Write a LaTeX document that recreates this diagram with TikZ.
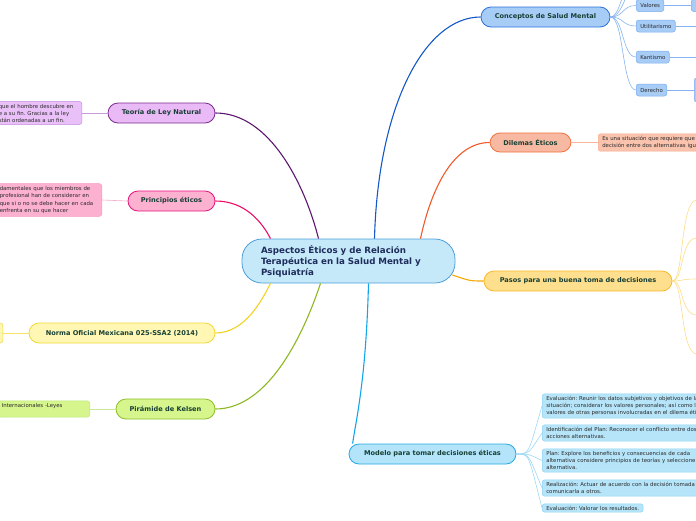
\documentclass[tikz,border=0pt]{standalone}
\usepackage{fontspec}
\setmainfont{DejaVu Sans}
\definecolor{txtgreen}{HTML}{173F35}
\definecolor{txtnavy}{HTML}{1F2D5C}
\definecolor{txtgrey}{HTML}{2A2A2A}
\definecolor{cenfill}{HTML}{C6E9FA}
\definecolor{cenline}{HTML}{4C9FD8}
\definecolor{bluefill}{HTML}{A7CCF6}
\definecolor{blueline}{HTML}{2D72D9}
\definecolor{bluebranch}{HTML}{1558C8}
\definecolor{bluesubline}{HTML}{7AAEF0}
\definecolor{bluetwig}{HTML}{86B4F2}
\definecolor{salfill}{HTML}{F8B9A2}
\definecolor{salline}{HTML}{F2713F}
\definecolor{salbranch}{HTML}{F05A28}
\definecolor{salsubfill}{HTML}{FAC3AD}
\definecolor{salsubline}{HTML}{F8A88A}
\definecolor{saltwig}{HTML}{F9B49C}
\definecolor{orfill}{HTML}{FEDF8E}
\definecolor{orline}{HTML}{F9B92A}
\definecolor{orbranch}{HTML}{F9A800}
\definecolor{ortwig}{HTML}{FDDC88}
\definecolor{skyfill}{HTML}{B3E4F9}
\definecolor{skyline}{HTML}{25A9E5}
\definecolor{skybranch}{HTML}{12A5E8}
\definecolor{skysubfill}{HTML}{B6E5FA}
\definecolor{skysubline}{HTML}{8ED0F2}
\definecolor{skytwig}{HTML}{9ED8F4}
\definecolor{vifill}{HTML}{EABAF6}
\definecolor{viline}{HTML}{7A2A8C}
\definecolor{vibranch}{HTML}{5C1670}
\definecolor{visubfill}{HTML}{EAC0F8}
\definecolor{visubline}{HTML}{C88FDE}
\definecolor{vitwig}{HTML}{C79AD8}
\definecolor{pkfill}{HTML}{FDB1D1}
\definecolor{pkline}{HTML}{E8127A}
\definecolor{pkbranch}{HTML}{E8106A}
\definecolor{pksubline}{HTML}{F49AC2}
\definecolor{pktwig}{HTML}{F8AACB}
\definecolor{yefill}{HTML}{FFF7B3}
\definecolor{yeline}{HTML}{F1D838}
\definecolor{yebranch}{HTML}{F3D323}
\definecolor{yetwig}{HTML}{F6E26B}
\definecolor{gnfill}{HTML}{D6F58D}
\definecolor{gnline}{HTML}{8DBE28}
\definecolor{gnbranch}{HTML}{8DB822}
\definecolor{gnsubline}{HTML}{BEE57A}
\definecolor{gntwig}{HTML}{C8E89A}
\begin{document}
\frenchspacing
\begin{tikzpicture}[x=1pt, y=-1pt,
	topic/.style={draw, line width=0.8pt, rounded corners=10pt, minimum height=20pt, inner xsep=6pt, inner ysep=0pt, font=\fontsize{6.6}{8}\selectfont\bfseries, text=txtgreen},
	leaf/.style={draw, line width=0.5pt, rounded corners=2.5pt, inner xsep=4pt, inner ysep=2.5pt, font=\fontsize{5.4}{7}\selectfont, text=txtgrey, align=left},
	branch/.style={line width=1.1pt},
	twig/.style={line width=0.6pt}]
	\useasboundingbox (0,0) rectangle (696,520);
	\clip (0,0) rectangle (696,520);

	% centre
	\node[draw=cenline, fill=cenfill, line width=0.8pt, rounded corners=20pt, minimum height=44pt, inner xsep=19pt, text width=175pt, align=left, font=\fontsize{8.7}{11}\selectfont\bfseries, text=txtnavy] (centre) at (348.5,261) {Aspectos Éticos y de Relación\\Terapéutica en la Salud Mental y\\Psiquiatría};

	% right side topics
	\node[topic, draw=blueline, fill=bluefill, minimum width=129pt] (conc) at (545.5,17) {Conceptos de Salud Mental};
	\node[topic, draw=salline, fill=salfill, minimum width=81pt, minimum height=19pt] (dilemas) at (530.5,142.5) {Dilemas Éticos};
	\node[topic, draw=orline, fill=orfill, minimum width=188pt] (pasos) at (578,281) {Pasos para una buena toma de decisiones};
	\node[topic, draw=skyline, fill=skyfill, minimum width=167pt] (modelo) at (432.5,454) {Modelo para tomar decisiones éticas};

	% left side topics
	\node[topic, draw=viline, fill=vifill, minimum width=107pt] (teoria) at (161.5,113) {Teoría de Ley Natural};
	\node[topic, draw=pkline, fill=pkfill, minimum width=87pt] (princ) at (171.5,201) {Principios éticos};
	\node[topic, draw=yeline, fill=yefill, minimum width=186pt] (norma) at (122,333) {Norma Oficial Mexicana 025-SSA2 (2014)};
	\node[topic, draw=gnline, fill=gnfill, minimum width=99pt] (piramide) at (165.5,409) {Pirámide de Kelsen};

	% branches
	\draw[branch, bluebranch] ([xshift=26pt]centre.north) .. controls (378,105) and (425,17) .. (conc.west);
	\draw[branch, salbranch] ([xshift=72pt]centre.north) .. controls (432,185) and (455,142.5) .. (dilemas.west);
	\draw[branch, orbranch] ([shift={(-3,14)}]centre.east) .. controls (470,281) .. (pasos.west);
	\draw[branch, skybranch] ([xshift=20pt]centre.south) .. controls (366,380) and (356,420) .. ([xshift=4pt]modelo.north west);
	\draw[branch, vibranch] (teoria.east) .. controls (270,113) and (305,185) .. ([xshift=-30pt]centre.north);
	\draw[branch, pkbranch] (princ.east) .. controls (245,201) and (262,222) .. ([xshift=-78pt]centre.north);
	\draw[branch, yebranch] (norma.east) .. controls (245,333) and (262,300) .. ([xshift=-78pt]centre.south);
	\draw[branch, gnbranch] (piramide.east) .. controls (270,409) and (305,330) .. ([xshift=-28pt]centre.south);

	% Conceptos de Salud Mental
	\node[leaf, draw=bluesubline, fill=bluefill, minimum height=12pt, inner ysep=0pt, anchor=west] (valores) at (636,5.5) {Valores};
	\node[leaf, draw=bluesubline, fill=bluefill, minimum height=12pt, inner ysep=0pt, anchor=west] (util) at (636,26) {Utilitarismo};
	\node[leaf, draw=bluesubline, fill=bluefill, minimum height=12pt, inner ysep=0pt, anchor=west] (kant) at (636,57) {Kantismo};
	\node[leaf, draw=bluesubline, fill=bluefill, minimum height=12pt, inner ysep=0pt, anchor=west] (derecho) at (636,90) {Derecho};
	\node[leaf, draw=bluesubline, fill=bluefill, minimum height=12pt, minimum width=20pt, inner ysep=0pt, anchor=west] (valores2) at (691,5.5) {};
	\node[leaf, draw=bluesubline, fill=bluefill, minimum height=24pt, minimum width=20pt, anchor=west] (derecho2) at (694,90) {};
	\coordinate (up1) at (636,-18);
	\coordinate (up2) at (636,-42);
	\coordinate (util2) at (700,26);
	\coordinate (kant2) at (700,57);

	\draw[twig, bluetwig] (conc.east) .. controls (622,17) and (624,-6) .. (up1);
	\draw[twig, bluetwig] (conc.east) .. controls (622,17) and (626,-30) .. (up2);
	\draw[twig, bluetwig] (conc.east) .. controls (624,17) and (622,5.5) .. (valores.west);
	\draw[twig, bluetwig] (conc.east) .. controls (624,17) and (622,26) .. (util.west);
	\draw[twig, bluetwig] (conc.east) .. controls (624,17) and (622,57) .. (kant.west);
	\draw[twig, bluetwig] (conc.east) .. controls (624,17) and (622,90) .. (derecho.west);
	\draw[twig, bluetwig] (valores.east) -- (valores2.west);
	\draw[twig, bluetwig] (util.east) -- (util2);
	\draw[twig, bluetwig] (kant.east) -- (kant2);
	\draw[twig, bluetwig] (derecho.east) -- (derecho2.west);

	% Dilemas Eticos
	\node[leaf, draw=salsubline, fill=salsubfill, anchor=west, text width=130pt] (dilsub) at (598,142.5) {Es una situación que requiere que\\decisión entre dos alternativas iguales};
	\draw[twig, saltwig] (dilemas.east) -- (dilsub.west);

	% Pasos para una buena toma de decisiones
	\foreach \y [count=\i] in {200,238,279,315,354} {
		\coordinate (paso\i) at (697,\y);
		\draw[twig, ortwig] (pasos.east) .. controls (684,281) and (680,\y) .. (paso\i);
	}

	% Modelo para tomar decisiones eticas
	\node[leaf, draw=skysubline, fill=skysubfill, anchor=west, text width=200pt] (m1) at (542,406) {Evaluación: Reunir los datos subjetivos y objetivos de la\\situación; considerar los valores personales; así como los\\valores de otras personas involucradas en el dilema ético.};
	\node[leaf, draw=skysubline, fill=skysubfill, anchor=west, text width=200pt] (m2) at (542,433) {Identificación del Plan: Reconocer el conflicto entre dos\\acciones alternativas.};
	\node[leaf, draw=skysubline, fill=skysubfill, anchor=west, text width=200pt] (m3) at (542,460.5) {Plan: Explore los beneficios y consecuencias de cada\\alternativa considere principios de teorías y seleccione una\\alternativa.};
	\node[leaf, draw=skysubline, fill=skysubfill, anchor=west, text width=200pt] (m4) at (542,488) {Realización: Actuar de acuerdo con la decisión tomada y\\comunicarla a otros.};
	\node[leaf, draw=skysubline, fill=skysubfill, anchor=west, inner ysep=2pt] (m5) at (542,508) {Evaluación: Valorar los resultados.};
	\foreach \m in {m1,m2,m3,m4,m5}
		\draw[twig, skytwig] (modelo.east) .. controls (530,454) and (528,454) .. (\m.west);

	% left leaves
	\node[leaf, draw=visubline, fill=visubfill, anchor=east, text width=79pt] (teosub) at (82,113) {que el hombre descubre en\\e a su fin. Gracias a la ley\\stán ordenadas a un fin.};
	\draw[twig, vitwig] (teoria.west) -- (teosub.east);
	\node[leaf, draw=pksubline, fill=pkfill, anchor=east, text width=98pt, font=\fontsize{5.4}{7.5}\selectfont] (prisub) at (102,200) {damentales que los miembros de\\profesional han de considerar en\\que si o no se debe hacer en cada\\enfrenta en su que hacer};
	\draw[twig, pktwig] (princ.west) -- (prisub.east);
	\node[leaf, draw=yeline, fill=yefill, anchor=east, minimum width=20pt, minimum height=20pt] (normsub) at (3,333) {};
	\draw[twig, yetwig] (norma.west) -- (normsub.east);
	\node[leaf, draw=gnsubline, fill=gnfill, anchor=east, text width=84pt] (pirsub) at (90,409) {Internacionales -Leyes\\\mbox{}};
	\draw[twig, gntwig] (piramide.west) -- (pirsub.east);
\end{tikzpicture}
\end{document}
